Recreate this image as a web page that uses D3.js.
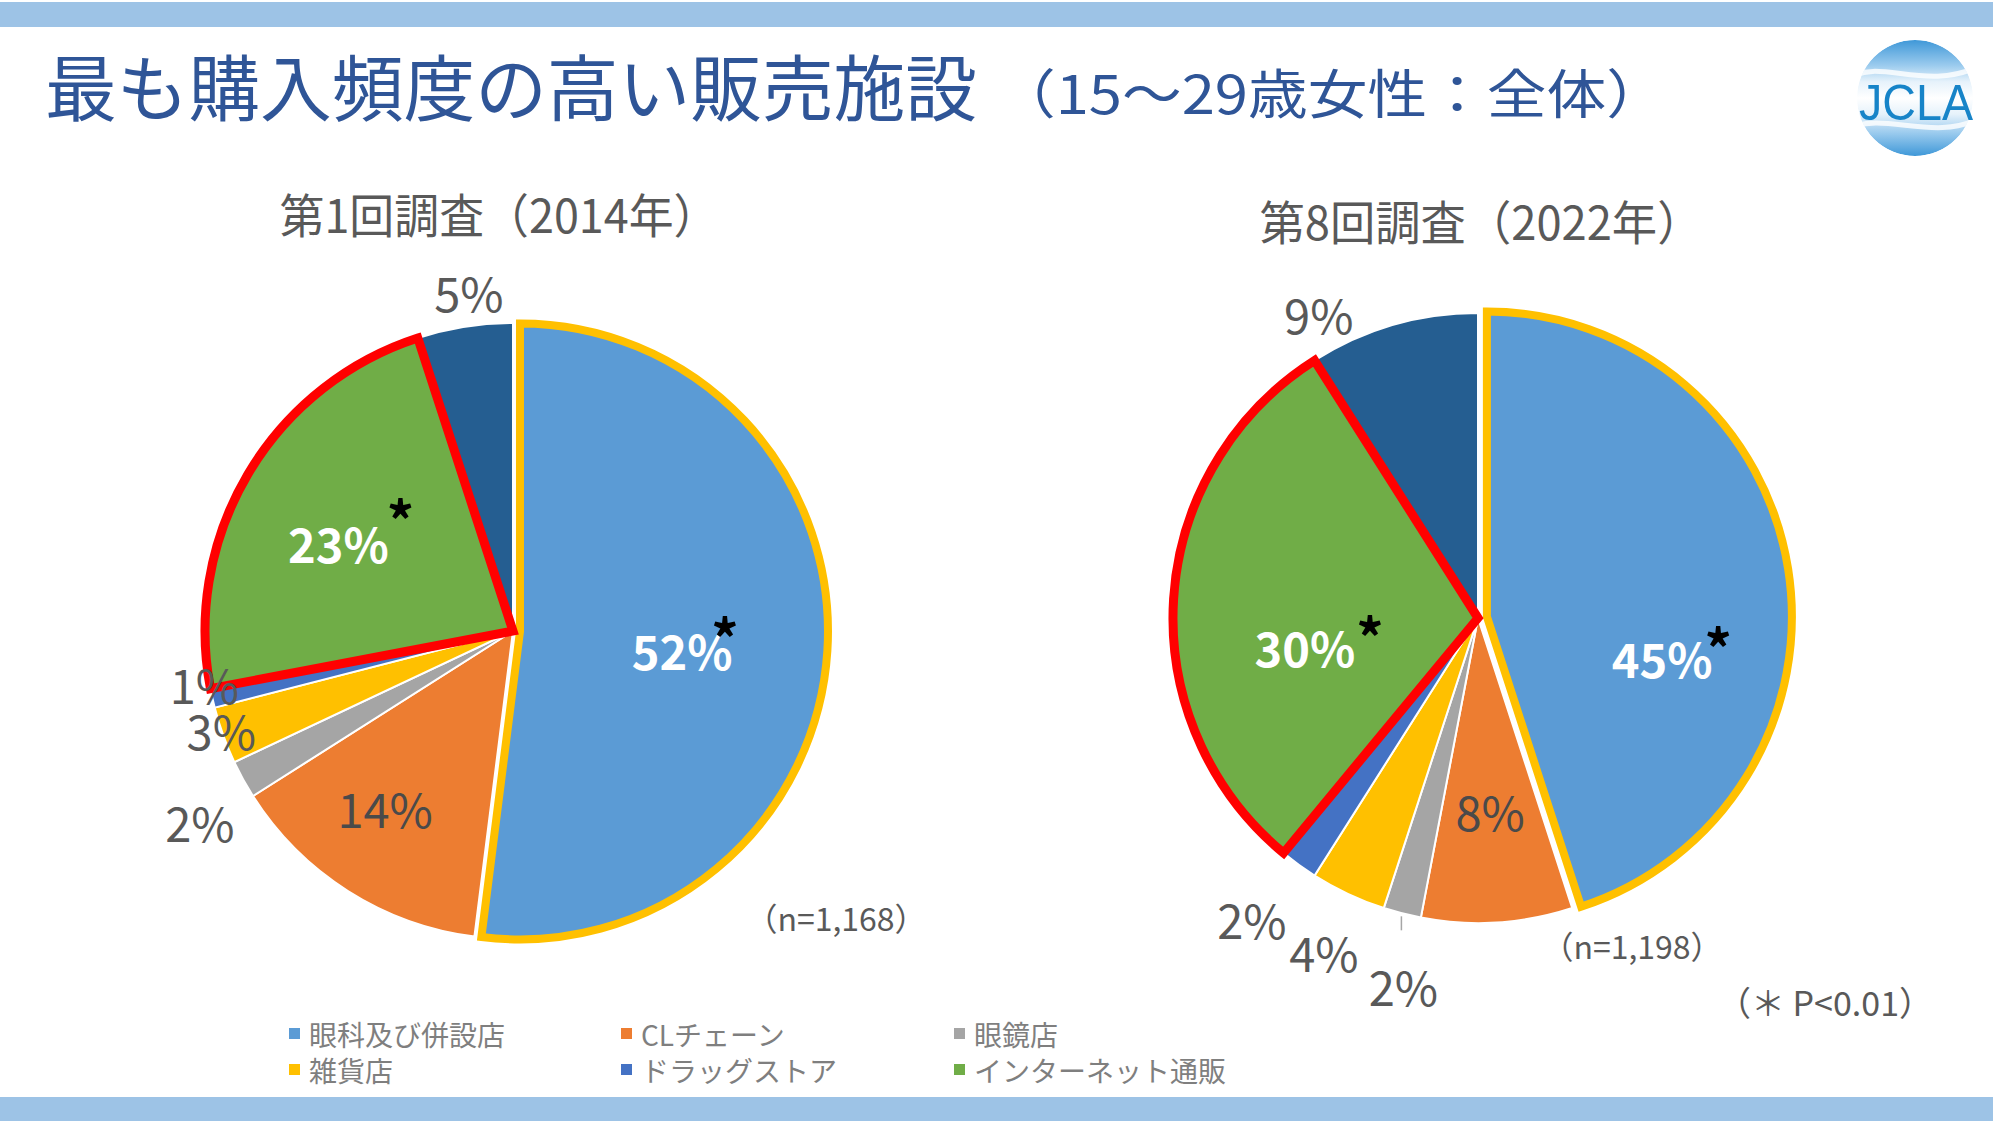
<!DOCTYPE html>
<html><head><meta charset="utf-8">
<script src="https://cdn.jsdelivr.net/npm/d3@7"></script>
<style>html,body{margin:0;padding:0;background:#fff;overflow:hidden}</style>
</head><body>
<svg id="chart" width="1998" height="1127"></svg>
<script>
// ---------- DATA ----------
const categories = ["眼科及び併設店","CLチェーン","眼鏡店","雑貨店","ドラッグストア","インターネット通販","その他"];
const values2014 = [52,14,2,3,1,23,5];
const values2022 = [45,8,2,4,2,30,9];
const sliceColors = ["#5B9BD5","#ED7D31","#A5A5A5","#FFC000","#4472C4","#70AD47","#255E91"];
const legendCount = 6;
const significantIdx = [0,5];
const surveyTitles = ["第1回調査（2014年）","第8回調査（2022年）"];
const sampleLabels = ["（n=1,168）","（n=1,198）"];
const titleText = "最も購入頻度の高い販売施設";
const subtitleText = "（15～29歳女性：全体）";
const noteText = "（＊ P<0.01）";
const logoText = "JCLA";

// ---------- LAYOUT ----------
const JP = "'Noto Sans CJK JP','Noto Sans',sans-serif";
const pieLayouts = [
  {cx:513, cy:631, r:308, explode:7, titleX:499, titleY:212, titleLen:439, nX:836, nY:917,
   labels:[[0.552,2.5],[0.708,3.5],[1.19,-2.5],[1.0,1.1],[1.016,3.0],[0.636,-3.6],[1.111,1.6]],
   stars:{0:[43,-22],5:[62,-33]}, leader:null},
  {cx:1478, cy:618, r:305, explode:9, titleX:1481, titleY:219, titleLen:443, nX:1632, nY:945,
   labels:[[0.617,21],[0.634,0],[1.228,-2.9],[1.204,-0.4],[1.232,1.0],[0.575,-12.8],[1.127,-11.4]],
   stars:{0:[56,-20],5:[65,-20]}, leader:2}
];

const svg = d3.select("#chart");

// bars
svg.append("rect").attr("x",0).attr("y",2).attr("width",1993).attr("height",25).attr("fill","#9DC3E6");
svg.append("rect").attr("x",0).attr("y",1097).attr("width",1993).attr("height",24).attr("fill","#9DC3E6");

// title
svg.append("text").attr("x",45).attr("y",83).attr("dominant-baseline","central")
  .attr("font-family",JP).attr("font-size",72).attr("fill","#2F5597")
  .attr("textLength",932).attr("lengthAdjust","spacingAndGlyphs").text(titleText);
svg.append("text").attr("x",996).attr("y",91).attr("dominant-baseline","central")
  .attr("font-family",JP).attr("font-size",53).attr("fill","#2F5597")
  .attr("textLength",670).attr("lengthAdjust","spacingAndGlyphs").text(subtitleText);

// logo
const defs = svg.append("defs");
const lg = defs.append("linearGradient").attr("id","logoGrad").attr("x1",0).attr("y1",0).attr("x2",0).attr("y2",1);
[[0,"#3F98D8"],[0.22,"#9BCBEE"],[0.36,"#E6F2FB"],[0.5,"#FFFFFF"],[0.64,"#E6F2FB"],[0.8,"#9BCBEE"],[1,"#3F98D8"]]
  .forEach(([o,c])=>lg.append("stop").attr("offset",o).attr("stop-color",c));
defs.append("clipPath").attr("id","logoClip").append("circle").attr("cx",1915).attr("cy",98).attr("r",58);
const logo = svg.append("g").attr("clip-path","url(#logoClip)");
logo.append("circle").attr("cx",1915).attr("cy",98).attr("r",58).attr("fill","url(#logoGrad)");
logo.append("path").attr("d","M1850,78 C1880,58 1925,92 1980,66").attr("fill","none").attr("stroke","#ffffff").attr("stroke-width",5).attr("opacity",0.8);
logo.append("path").attr("d","M1850,128 C1885,112 1935,142 1980,118").attr("fill","none").attr("stroke","#ffffff").attr("stroke-width",5).attr("opacity",0.8);
svg.append("text").attr("x",1859).attr("y",120).attr("font-family","'Liberation Sans',sans-serif")
  .attr("font-size",50).attr("fill","#1784C8").attr("textLength",114).attr("lengthAdjust","spacingAndGlyphs").text(logoText);

// pies
const seriesList = [values2014, values2022];
seriesList.forEach((vals, pi) => {
  const L = pieLayouts[pi];
  const g = svg.append("g");
  const arcs = d3.pie().sort(null).startAngle(0).endAngle(2*Math.PI).value(d=>d)(vals);
  const arc = d3.arc().innerRadius(0).outerRadius(L.r);

  svg.append("text").attr("x",L.titleX).attr("y",L.titleY).attr("text-anchor","middle")
    .attr("dominant-baseline","central").attr("font-family",JP).attr("font-size",47)
    .attr("fill","#595959").attr("textLength",L.titleLen).attr("lengthAdjust","spacingAndGlyphs")
    .text(surveyTitles[pi]);

  const normal = arcs.filter((d,i)=>!significantIdx.includes(i));
  g.selectAll("path.n").data(normal).join("path").attr("class","n")
    .attr("transform",`translate(${L.cx},${L.cy})`)
    .attr("d",arc).attr("fill",d=>sliceColors[d.index]).attr("stroke","#ffffff").attr("stroke-width",2);

  const blue = arcs[0];
  const bm = (blue.startAngle+blue.endAngle)/2;
  g.append("path").attr("transform",`translate(${L.cx+L.explode*Math.sin(bm)},${L.cy-L.explode*Math.cos(bm)})`)
    .attr("d",arc(blue)).attr("fill",sliceColors[0]).attr("stroke","#FFC000").attr("stroke-width",8)
    .attr("stroke-linejoin","miter");
  const green = arcs[5];
  g.append("path").attr("transform",`translate(${L.cx},${L.cy})`)
    .attr("d",arc(green)).attr("fill",sliceColors[5]).attr("stroke","#FF0000").attr("stroke-width",9)
    .attr("stroke-linejoin","miter").attr("stroke-miterlimit",10);

  arcs.forEach((d,i)=>{
    const [rf, nudge] = L.labels[i];
    const mid = (d.startAngle+d.endAngle)/2 + nudge*Math.PI/180;
    const rr = rf*L.r;
    const x = L.cx + rr*Math.sin(mid), y = L.cy - rr*Math.cos(mid);
    const inside = rf < 0.8;
    const sig = significantIdx.includes(i);
    svg.append("text").attr("x",x).attr("y",y).attr("text-anchor","middle").attr("dominant-baseline","central")
      .attr("font-family",JP).attr("font-size",47)
      .attr("font-weight",sig?"bold":"normal")
      .attr("fill",sig?"#FFFFFF":(inside?"#4A4A4A":"#595959"))
      .text(vals[i]+"%");
    if (sig && L.stars[i]) {
      const [sx,sy] = L.stars[i];
      svg.append("text").attr("x",x+sx).attr("y",y+sy+33).attr("text-anchor","middle")
        .attr("font-family",JP).attr("font-size",54).attr("font-weight","bold").attr("fill","#000000").text("*");
    }
    if (L.leader === i) {
      const m0 = (d.startAngle+d.endAngle)/2;
      const px = L.cx + (L.r+3)*Math.sin(m0), py = L.cy - (L.r+3)*Math.cos(m0);
      svg.append("line").attr("x1",px).attr("y1",py).attr("x2",px).attr("y2",py+14)
        .attr("stroke","#A6A6A6").attr("stroke-width",1.5);
    }
  });

  svg.append("text").attr("x",L.nX).attr("y",L.nY).attr("text-anchor","middle").attr("dominant-baseline","central")
    .attr("font-family",JP).attr("font-size",32).attr("fill","#595959").text(sampleLabels[pi]);
});

// note
svg.append("text").attr("x",1825).attr("y",1001).attr("text-anchor","middle").attr("dominant-baseline","central")
  .attr("font-family",JP).attr("font-size",34).attr("fill","#595959").text(noteText);

// legend
const legX = [289,621,954], legY = [1034,1070];
const leg = svg.append("g").selectAll("g").data(categories.slice(0,legendCount)).join("g")
  .attr("transform",(d,i)=>`translate(${legX[i%3]},${legY[Math.floor(i/3)]})`);
leg.append("rect").attr("x",0).attr("y",-6).attr("width",11).attr("height",11).attr("fill",(d,i)=>sliceColors[i]);
leg.append("text").attr("x",20).attr("y",0).attr("dominant-baseline","central")
  .attr("font-family",JP).attr("font-size",28).attr("fill","#7F7F7F").text(d=>d);
</script>
</body></html>
